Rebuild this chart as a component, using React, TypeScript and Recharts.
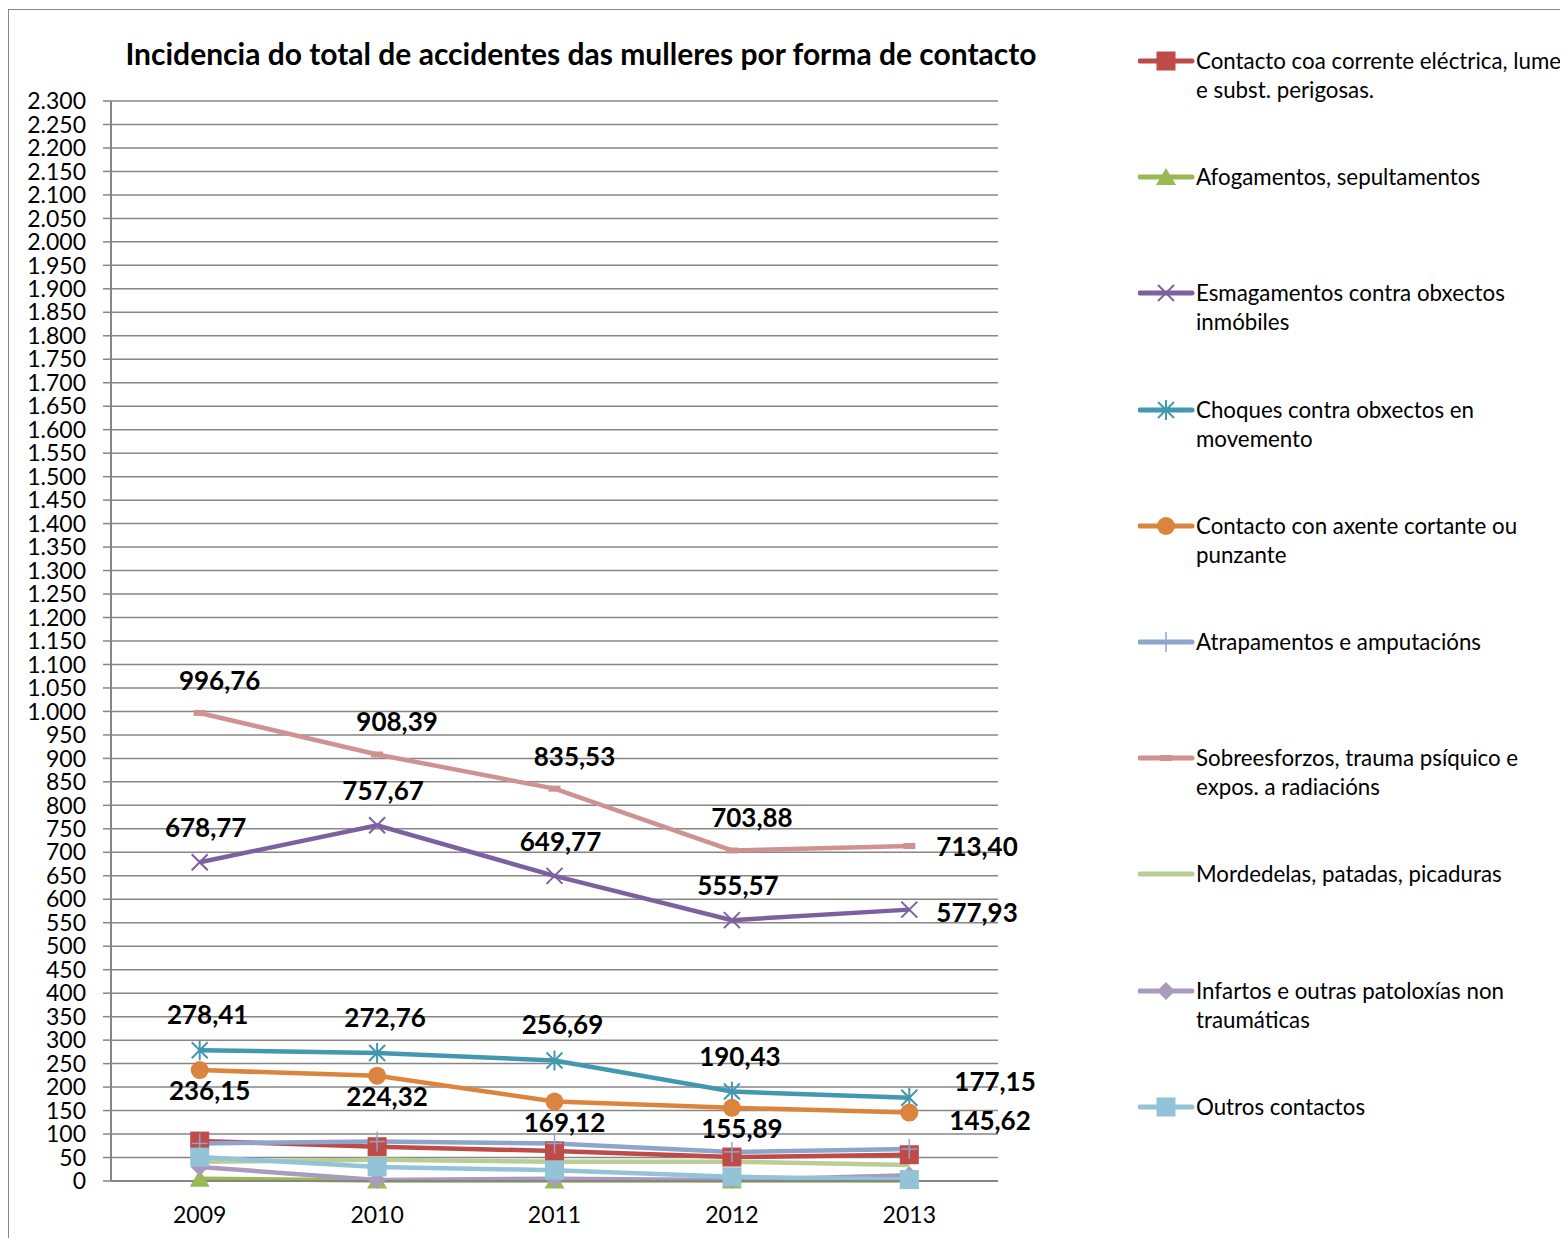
import React from "react";
import { LineChart, Line, XAxis, YAxis, CartesianGrid } from "recharts";

const years = ["2009", "2010", "2011", "2012", "2013"];

const corrente = [85, 73, 64, 51, 56];
const afogamentos = [5, 1, 1, 1, 1];
const esmagamentos = [678.77, 757.67, 649.77, 555.57, 577.93];
const choques = [278.41, 272.76, 256.69, 190.43, 177.15];
const cortante = [236.15, 224.32, 169.12, 155.89, 145.62];
const atrapamentos = [80, 84, 80, 62, 68];
const sobreesforzos = [996.76, 908.39, 835.53, 703.88, 713.4];
const mordedelas = [41, 45, 41, 41, 34];
const infartos = [30, 2, 5, 2, 12];
const outros = [51, 30, 23, 9, 3];

const yTicks = Array.from({ length: 47 }, (_, i) => i * 50);

const FONT = "Lato, 'Open Sans', sans-serif";
const GRID = "#868686";

type Shape = "square" | "triangle" | "x" | "star" | "circle" | "plus" | "dash" | "none" | "diamond";

interface LabelCfg {
  dx: number;
  dy: number;
  lastDx: number;
  lastDy: number;
}

interface SeriesCfg {
  key: string;
  name: string;
  values: number[];
  color: string;
  shape: Shape;
  label?: LabelCfg;
}

const series: SeriesCfg[] = [
  { key: "corrente", name: "Contacto coa corrente eléctrica, lume\ne subst. perigosas.", values: corrente, color: "#BE4B48", shape: "square" },
  { key: "afogamentos", name: "Afogamentos, sepultamentos", values: afogamentos, color: "#98B954", shape: "triangle" },
  {
    key: "esmagamentos", name: "Esmagamentos contra obxectos\ninmóbiles", values: esmagamentos, color: "#7D60A0", shape: "x",
    label: { dx: 6, dy: -35, lastDx: 27, lastDy: 2 },
  },
  {
    key: "choques", name: "Choques contra obxectos en\nmovemento", values: choques, color: "#4198AF", shape: "star",
    label: { dx: 8, dy: -36, lastDx: 45, lastDy: -17 },
  },
  {
    key: "cortante", name: "Contacto con axente cortante ou\npunzante", values: cortante, color: "#DB843D", shape: "circle",
    label: { dx: 10, dy: 20, lastDx: 40, lastDy: 7 },
  },
  { key: "atrapamentos", name: "Atrapamentos e amputacións", values: atrapamentos, color: "#8EA5CB", shape: "plus" },
  {
    key: "sobreesforzos", name: "Sobreesforzos, trauma psíquico e\nexpos. a radiacións", values: sobreesforzos, color: "#D09290", shape: "dash",
    label: { dx: 20, dy: -33, lastDx: 27, lastDy: 0 },
  },
  { key: "mordedelas", name: "Mordedelas, patadas, picaduras", values: mordedelas, color: "#B9CD96", shape: "none" },
  { key: "infartos", name: "Infartos e outras patoloxías non\ntraumáticas", values: infartos, color: "#A99BBD", shape: "diamond" },
  { key: "outros", name: "Outros contactos", values: outros, color: "#92C3D6", shape: "square" },
];

const chartData = years.map((year, i) => {
  const row: Record<string, string | number> = { year };
  series.forEach((s) => {
    row[s.key] = s.values[i];
  });
  return row;
});

function Marker({ cx, cy, shape, color }: { cx: number; cy: number; shape: Shape; color: string }) {
  switch (shape) {
    case "square":
      return <rect x={cx - 9.5} y={cy - 9.5} width={19} height={19} fill={color} />;
    case "triangle":
      return <polygon points={`${cx},${cy - 9} ${cx + 10},${cy + 8} ${cx - 10},${cy + 8}`} fill={color} />;
    case "x":
      return (
        <g stroke={color} strokeWidth={2}>
          <line x1={cx - 8} y1={cy - 8} x2={cx + 8} y2={cy + 8} />
          <line x1={cx - 8} y1={cy + 8} x2={cx + 8} y2={cy - 8} />
        </g>
      );
    case "star":
      return (
        <g stroke={color} strokeWidth={2}>
          <line x1={cx - 8} y1={cy - 8} x2={cx + 8} y2={cy + 8} />
          <line x1={cx - 8} y1={cy + 8} x2={cx + 8} y2={cy - 8} />
          <line x1={cx} y1={cy - 10} x2={cx} y2={cy + 10} />
        </g>
      );
    case "circle":
      return <circle cx={cx} cy={cy} r={9} fill={color} />;
    case "plus":
      return (
        <g stroke={color} strokeWidth={1.5}>
          <line x1={cx} y1={cy - 10} x2={cx} y2={cy + 10} />
          <line x1={cx - 8} y1={cy} x2={cx + 8} y2={cy} />
        </g>
      );
    case "dash":
      return <rect x={cx - 6} y={cy - 3} width={12} height={6} fill={color} />;
    case "diamond":
      return <polygon points={`${cx},${cy - 9} ${cx + 9},${cy} ${cx},${cy + 9} ${cx - 9},${cy}`} fill={color} />;
    default:
      return null;
  }
}

function fmt(v: number) {
  return v.toFixed(2).replace(".", ",");
}

function makeLabel(cfg: LabelCfg) {
  return (props: any) => {
    const { x, y, value, index } = props;
    const last = index === years.length - 1;
    return (
      <text
        key={`lbl-${index}`}
        x={x + (last ? cfg.lastDx : cfg.dx)}
        y={y + (last ? cfg.lastDy : cfg.dy)}
        textAnchor={last ? "start" : "middle"}
        dominantBaseline="central"
        fontFamily={FONT}
        fontWeight="bold"
        fontSize={26}
        fill="#000"
      >
        {fmt(Number(value))}
      </text>
    );
  };
}

function Legend() {
  return (
    <div style={{ position: "absolute", left: 1129, top: 36, fontFamily: FONT, fontSize: 22.3, lineHeight: "29px", color: "#000" }}>
      {series.map((s, i) => (
        <div key={s.key} style={{ position: "absolute", top: i * 116.2, left: 0, display: "flex", alignItems: "flex-start" }}>
          <svg width={57} height={29} style={{ flex: "none" }}>
            <line x1={2} y1={15} x2={54} y2={15} stroke={s.color} strokeWidth={5} strokeLinecap="round" />
            <Marker cx={28} cy={15} shape={s.shape} color={s.color} />
          </svg>
          <div style={{ whiteSpace: "pre", marginLeft: 1 }}>{s.name}</div>
        </div>
      ))}
    </div>
  );
}

export default function App() {
  return (
    <div
      style={{
        position: "relative",
        marginTop: 1,
        width: 1559,
        height: 1228,
        borderLeft: `1px solid ${GRID}`,
        borderTop: `1px solid ${GRID}`,
        overflow: "hidden",
        background: "#fff",
      }}
    >
      <div
        style={{
          position: "absolute",
          left: 572 - 500,
          top: 25,
          width: 1000,
          textAlign: "center",
          fontFamily: FONT,
          fontWeight: "bold",
          fontSize: 30,
          color: "#000",
        }}
      >
        Incidencia do total de accidentes das mulleres por forma de contacto
      </div>
      <div style={{ position: "absolute", left: 0, top: 0 }}>
        <LineChart width={1120} height={1220} data={chartData} margin={{ top: 91, right: 131, left: 0, bottom: 0 }}>
          <CartesianGrid vertical={false} stroke={GRID} strokeWidth={1.5} />
          <XAxis
            xAxisId="bounds"
            type="number"
            domain={[0, 5]}
            ticks={[0, 1, 2, 3, 4, 5]}
            allowDataOverflow
            tick={false}
            tickSize={8}
            axisLine={false}
            stroke={GRID}
            height={0}
          />
          <XAxis
            dataKey="year"
            padding={{ left: 88.7, right: 88.7 }}
            height={49}
            axisLine={{ stroke: GRID, strokeWidth: 2 }}
            tickLine={false}
            tickMargin={20}
            tick={{ fill: "#000", fontSize: 23, fontFamily: FONT }}
            interval={0}
          />
          <YAxis
            width={102}
            domain={[0, 2300]}
            ticks={yTicks}
            interval={0}
            tickSize={8}
            tickMargin={17}
            axisLine={{ stroke: GRID, strokeWidth: 2 }}
            tickLine={{ stroke: GRID, strokeWidth: 1.5 }}
            tick={{ fill: "#000", fontSize: 23, fontFamily: FONT }}
            tickFormatter={(v: number) => v.toLocaleString("de-DE")}
          />
          {series.map((s) => (
            <Line
              key={s.key}
              dataKey={s.key}
              name={s.name}
              type="linear"
              stroke={s.color}
              strokeWidth={4.5}
              isAnimationActive={false}
              dot={(p: any) => <Marker key={`${s.key}-${p.index}`} cx={p.cx} cy={p.cy} shape={s.shape} color={s.color} />}
              activeDot={false}
              label={s.label ? makeLabel(s.label) : false}
            />
          ))}
        </LineChart>
      </div>
      <Legend />
    </div>
  );
}
